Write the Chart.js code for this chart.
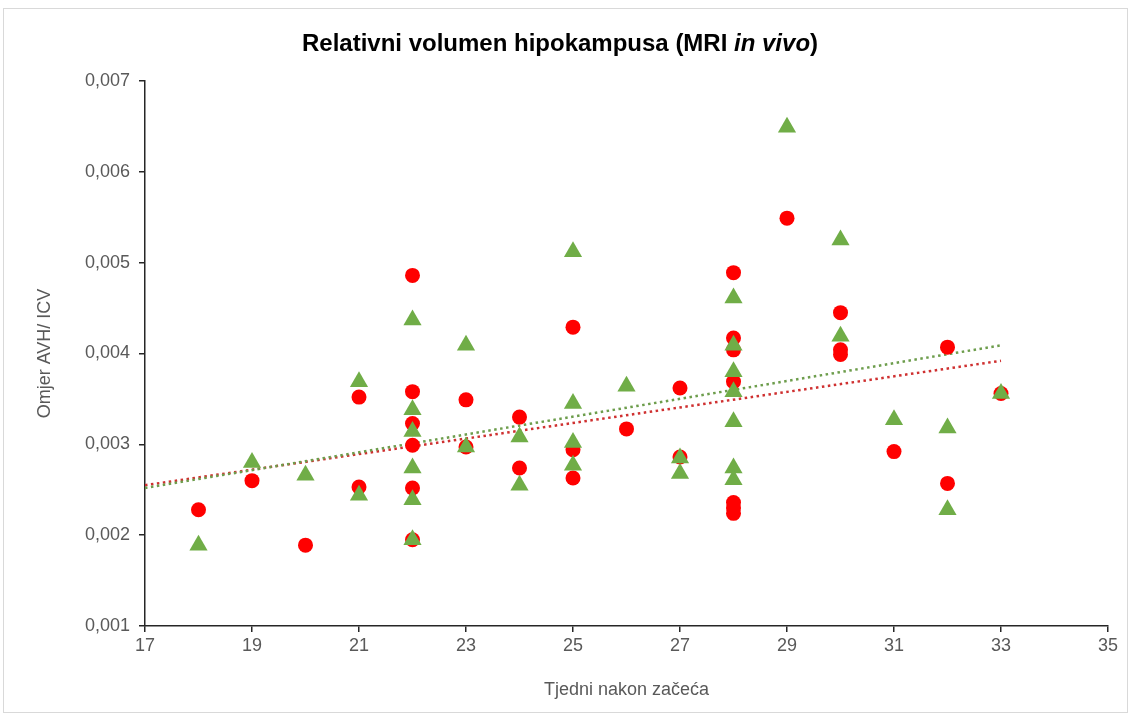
<!DOCTYPE html>
<html><head><meta charset="utf-8">
<script src="https://cdn.jsdelivr.net/npm/chart.js@4.4.1/dist/chart.umd.min.js"></script>
<style>html,body{margin:0;padding:0;background:#fff;}#wrap{position:relative;width:1131px;height:717px;}</style>
</head><body><div id="wrap"><canvas id="c" width="1131" height="717"></canvas></div>
<script>
const titleParts = [["Relativni volumen hipokampusa (MRI ", false], ["in vivo", true], [")", false]];
const xTitle = "Tjedni nakon začeća";
const yTitle = "Omjer AVH/ ICV";

const weeksRed = [18,19,20,21,21,22,22,22,22,22,22,23,23,24,24,25,25,25,26,27,27,28,28,28,28,28,28,28,29,30,30,30,31,32,32,33];
const ratioRed = [0.00228,0.00260,0.00189,0.00352,0.00253,0.00486,0.00358,0.00323,0.00299,0.00252,0.00195,0.00349,0.00297,0.00330,0.00274,0.00429,0.00294,0.00263,0.00317,0.00362,0.00286,0.00489,0.00417,0.00404,0.00369,0.00236,0.00230,0.00224,0.00549,0.00445,0.00404,0.00399,0.00292,0.00407,0.00257,0.00356];

const weeksGreen = [18,19,20,21,21,22,22,22,22,22,22,23,23,24,24,25,25,25,25,26,27,27,28,28,28,28,28,28,28,29,30,30,31,32,32,33];
const ratioGreen = [0.00189,0.00280,0.00266,0.00369,0.00244,0.00437,0.00338,0.00314,0.00274,0.00239,0.00195,0.00409,0.00297,0.00308,0.00255,0.00512,0.00345,0.00302,0.00277,0.00364,0.00285,0.00268,0.00461,0.00409,0.00380,0.00358,0.00325,0.00274,0.00261,0.00649,0.00525,0.00419,0.00327,0.00318,0.00228,0.00356];

const trendWeeks = [17, 33];
const trendRed = [0.00255, 0.00392];
const trendGreen = [0.00252, 0.00409];

const xTicks = [17,19,21,23,25,27,29,31,33,35];
const yTicks = [0.001,0.002,0.003,0.004,0.005,0.006,0.007];

const pts = (xs, ys) => xs.map((x, i) => ({x: x, y: ys[i]}));

const FONT = '"Liberation Sans", Arial, sans-serif';
const GREY = '#595959';

const frame = {
  id: 'frame',
  beforeDraw(chart) {
    const ctx = chart.ctx;
    ctx.save();
    ctx.fillStyle = '#fff';
    ctx.fillRect(0, 0, chart.width, chart.height);
    ctx.strokeStyle = '#d9d9d9';
    ctx.lineWidth = 1;
    ctx.strokeRect(3.5, 8.5, chart.width - 7, chart.height - 13);
    ctx.restore();
  },
  afterDraw(chart) {
    const ctx = chart.ctx;
    ctx.save();
    ctx.fillStyle = '#000';
    ctx.textBaseline = 'alphabetic';
    const fonts = titleParts.map(p => (p[1] ? 'italic bold ' : 'bold ') + '24px ' + FONT);
    let total = 0;
    const widths = titleParts.map((p, i) => { ctx.font = fonts[i]; const w = ctx.measureText(p[0]).width; total += w; return w; });
    let x = 560 - total / 2;
    titleParts.forEach((p, i) => { ctx.font = fonts[i]; ctx.fillText(p[0], x, 51); x += widths[i]; });
    ctx.restore();
  }
};

new Chart(document.getElementById('c'), {
  type: 'scatter',
  data: {
    datasets: [
      { label: 'green', data: pts(weeksGreen, ratioGreen), pointStyle: 'triangle', pointRadius: 10.5, pointHoverRadius: 10.5,
        backgroundColor: '#70AD47', borderColor: '#70AD47', borderWidth: 0, order: 1 },
      { label: 'red', data: pts(weeksRed, ratioRed), pointStyle: 'circle', pointRadius: 7.5, pointHoverRadius: 7.5,
        backgroundColor: '#FF0000', borderColor: '#FF0000', borderWidth: 0, order: 2 },
      { type: 'line', label: 'trend green', data: pts(trendWeeks, trendGreen), borderColor: '#6d9d4c', borderWidth: 2.5,
        borderDash: [2.5, 3.5], pointRadius: 0, fill: false, order: 3 },
      { type: 'line', label: 'trend red', data: pts(trendWeeks, trendRed), borderColor: '#cf3030', borderWidth: 2.5,
        borderDash: [2.5, 3.5], pointRadius: 0, fill: false, order: 4 }
    ]
  },
  options: {
    responsive: false, animation: false, devicePixelRatio: 1,
    layout: { padding: { top: 81, right: 23, bottom: 0, left: 0 } },
    plugins: { legend: { display: false }, tooltip: { enabled: false }, title: { display: false } },
    scales: {
      x: {
        type: 'linear', min: 17, max: 35,
        afterBuildTicks: s => { s.ticks = xTicks.map(v => ({value: v})); },
        afterFit: s => { s.height = 91; },
        ticks: { font: { size: 18, family: FONT }, color: GREY, padding: 3, callback: v => String(v) },
        grid: { drawOnChartArea: false, drawTicks: true, tickLength: 6, color: '#262626', lineWidth: 1.5 },
        border: { display: true, color: '#262626', width: 1.5 },
        title: { display: true, text: xTitle, font: { size: 18, family: FONT }, color: GREY, padding: { top: 0, bottom: 16 } }
      },
      y: {
        type: 'linear', min: 0.001, max: 0.007,
        afterBuildTicks: s => { s.ticks = yTicks.map(v => ({value: v})); },
        afterFit: s => { s.width = 145; },
        ticks: { font: { size: 18, family: FONT }, color: GREY, padding: 9, callback: v => v.toFixed(3).replace('.', ',') },
        grid: { drawOnChartArea: false, drawTicks: true, tickLength: 6, color: '#262626', lineWidth: 1.5 },
        border: { display: true, color: '#262626', width: 1.5 },
        title: { display: true, text: yTitle, font: { size: 18, family: FONT }, color: GREY, padding: { top: 34, bottom: 0 } }
      }
    }
  },
  plugins: [frame]
});
</script></body></html>
